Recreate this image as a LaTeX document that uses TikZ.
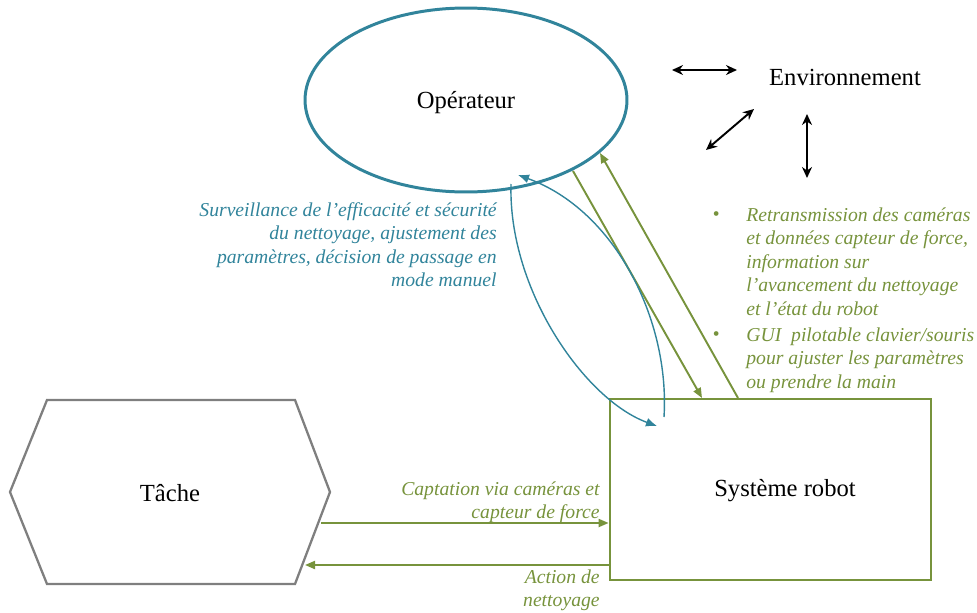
\documentclass[tikz,border=0pt]{standalone}
\usepackage{fontspec}
\setmainfont{Liberation Serif}
\usepackage{tikz}
\usetikzlibrary{arrows.meta,positioning,shapes.geometric}
\definecolor{opblue}{HTML}{31849B}
\definecolor{robgreen}{HTML}{77933C}
\definecolor{tachegray}{HTML}{7F7F7F}

\begin{document}
\begin{tikzpicture}[x=0.02cm,y=-0.02cm,
  lbl/.style={font=\fontsize{14}{16}\selectfont},
  note/.style={font=\fontsize{11.2}{13.4}\selectfont\itshape,inner sep=0pt},
  greenarr/.style={robgreen,line width=1.1pt,-{Triangle[length=2mm,width=1.6mm]}},
  bluearr/.style={opblue,line width=0.8pt,-{Latex[length=2.2mm,width=1.8mm]}},
  envarr/.style={line width=1.1pt,{Stealth[length=2.2mm,width=2mm]}-{Stealth[length=2.2mm,width=2mm]}}]
  \useasboundingbox (0,0) rectangle (977,612);
  % Operateur
  \node[draw=opblue,line width=1.7pt,ellipse,minimum width=6.44cm,minimum height=3.68cm,inner sep=0pt] (op) at (466,100) {};
  \node[lbl] (optxt) at (466,103) {Opérateur};
  % Environnement and its arrows
  \node[lbl] (env) at (845,77) {Environnement};
  \coordinate (envA1) at (672,70);  \coordinate (envA2) at (737,70);
  \coordinate (envB1) at (706,150); \coordinate (envB2) at (754,109);
  \coordinate (envC1) at (807,114); \coordinate (envC2) at (807,178);
  \draw[envarr] (envA1) -- (envA2);
  \draw[envarr] (envB1) -- (envB2);
  \draw[envarr] (envC1) -- (envC2);
  % Tache (hexagon)
  \draw[tachegray,line width=1.3pt] (10,492) -- (47,400) -- (295,400) -- (330,492) -- (295,584) -- (47,584) -- cycle;
  \node[lbl] (tache) at (170,493) {Tâche};
  \coordinate (tacheOut) at (321,523);
  \coordinate (tacheIn) at (305,565);
  % Systeme robot
  \node[draw=robgreen,line width=1.6pt,minimum width=6.42cm,minimum height=3.62cm] (rob) at (770.5,489.5) {};
  \node[lbl] (robtxt) at (785,491) {Système robot};
  % Tache <-> robot
  \draw[greenarr] (tacheOut) -- (tacheOut -| rob.west);
  \draw[greenarr] (rob.west |- tacheIn) -- (tacheIn);
  \node[note,robgreen,align=right,anchor=north east] (capt) at (600,481) {Captation via caméras et\\capteur de force};
  \node[note,robgreen,align=right,anchor=north east] (act) at (600,569) {Action de\\nettoyage};
  % Operateur <-> robot
  \coordinate (opDown) at (573,171);
  \coordinate (robUp) at (702,398);
  \coordinate (robOut) at (738,398);
  \coordinate (opUp) at (600,153);
  \draw[greenarr] (opDown) -- (robUp);
  \draw[greenarr] (robOut) -- (opUp);
  % supervision loop
  \coordinate (loopA) at (511,184);
  \coordinate (loopB) at (657,426);
  \coordinate (loopC) at (664,417);
  \coordinate (loopD) at (518,175);
  \draw[bluearr] (loopA) .. controls (508,290) and (585,400) .. (loopB);
  \draw[bluearr] (loopC) .. controls (670,320) and (615,210) .. (loopD);
  \node[note,opblue,align=right,anchor=north east] (surv) at (497,202) {Surveillance de l'efficacité et sécurité\\du nettoyage, ajustement des\\paramètres, décision de passage en\\mode manuel};
  % Retransmission / GUI
  \node[note,robgreen] (b1) at (716,216) {\textbullet};
  \node[note,robgreen,align=left,anchor=north west] (ret) at (746,207) {Retransmission des caméras\\et données capteur de force,\\information sur\\l'avancement du nettoyage\\et l'état du robot};
  \node[note,robgreen] (b2) at (716,336) {\textbullet};
  \node[note,robgreen,align=left,anchor=north west] (gui) at (746,327) {GUI\ \ pilotable clavier/souris\\pour ajuster les paramètres\\ou prendre la main};
\end{tikzpicture}
\end{document}
